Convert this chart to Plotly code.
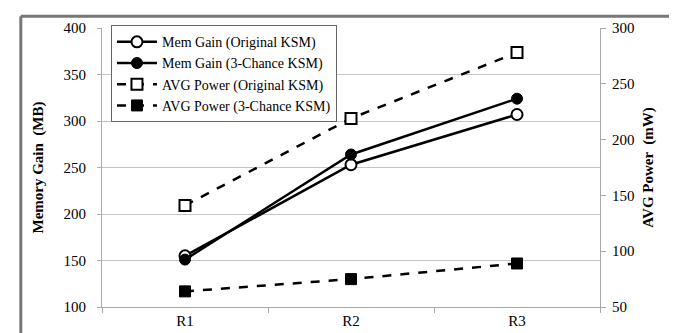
import plotly.graph_objects as go

categories = ["R1", "R2", "R3"]
mem_original = [155, 253, 307]
mem_3chance = [151, 264, 324]
power_original = [141, 219, 278]
power_3chance = [64, 75, 89]

FONT = "Liberation Serif"

fig = go.Figure()
fig.add_trace(go.Scatter(x=categories, y=mem_original, name="Mem Gain (Original KSM)",
                         mode="lines+markers", line=dict(color="black", width=2.5),
                         marker=dict(symbol="circle", size=11, color="white", line=dict(color="black", width=2))))
fig.add_trace(go.Scatter(x=categories, y=mem_3chance, name="Mem Gain (3-Chance KSM)",
                         mode="lines+markers", line=dict(color="black", width=2.5),
                         marker=dict(symbol="circle", size=11, color="black", line=dict(color="black", width=1))))
fig.add_trace(go.Scatter(x=categories, y=power_original, name="AVG Power (Original KSM)", yaxis="y2",
                         mode="lines+markers", line=dict(color="black", width=2.5, dash="dash"),
                         marker=dict(symbol="square", size=11, color="white", line=dict(color="black", width=2))))
fig.add_trace(go.Scatter(x=categories, y=power_3chance, name="AVG Power (3-Chance KSM)", yaxis="y2",
                         mode="lines+markers", line=dict(color="black", width=2.5, dash="dash"),
                         marker=dict(symbol="square", size=11, color="black", line=dict(color="black", width=1))))

frame_style = dict(color="#777777", width=3)

fig.update_layout(
    width=677, height=333,
    margin=dict(l=94, r=85, t=19, b=31),
    paper_bgcolor="white", plot_bgcolor="white",
    font=dict(family=FONT, color="black", size=15),
    showlegend=True,
    legend=dict(x=0.018, y=1.01, xanchor="left", yanchor="top",
                bgcolor="white", bordercolor="#666666", borderwidth=1,
                font=dict(family=FONT, size=14, color="black"), tracegroupgap=0,
                itemwidth=40),
    xaxis=dict(type="category", tickson="boundaries", ticks="outside", ticklen=5,
               tickcolor="#aaaaaa", showline=True, linecolor="#aaaaaa", linewidth=1,
               showgrid=False, range=[-0.5, 2.5],
               tickfont=dict(family=FONT, size=15, color="black")),
    yaxis=dict(range=[100, 400], dtick=50, showgrid=True, gridcolor="#c4c4c4",
               showline=True, linecolor="#aaaaaa", ticks="outside", ticklen=4,
               tickcolor="#aaaaaa", zeroline=False, ticklabelstandoff=8,
               tickfont=dict(family=FONT, size=15, color="black"),
               title=dict(text="<b>Memory Gain  (MB)</b>", font=dict(family=FONT, size=15, color="black"), standoff=16)),
    yaxis2=dict(range=[50, 300], dtick=50, overlaying="y", side="right", showgrid=False,
                showline=True, linecolor="#aaaaaa", ticks="outside", ticklen=5,
                tickcolor="#aaaaaa", zeroline=False, ticklabelstandoff=3,
                tickfont=dict(family=FONT, size=15, color="black"),
                title=dict(text="<b>AVG Power  (mW)</b>", font=dict(family=FONT, size=15, color="black"), standoff=8)),
    shapes=[
        dict(type="line", xref="paper", yref="paper", x0=-0.163, x1=1.145, y0=1.042, y1=1.042, line=frame_style),
        dict(type="line", xref="paper", yref="paper", x0=-0.163, x1=-0.163, y0=-0.2, y1=1.042, line=frame_style),
        dict(type="line", xref="paper", yref="paper", x0=1.145, x1=1.145, y0=-0.2, y1=1.042, line=frame_style),
    ],
)

fig.write_html("out.html")
